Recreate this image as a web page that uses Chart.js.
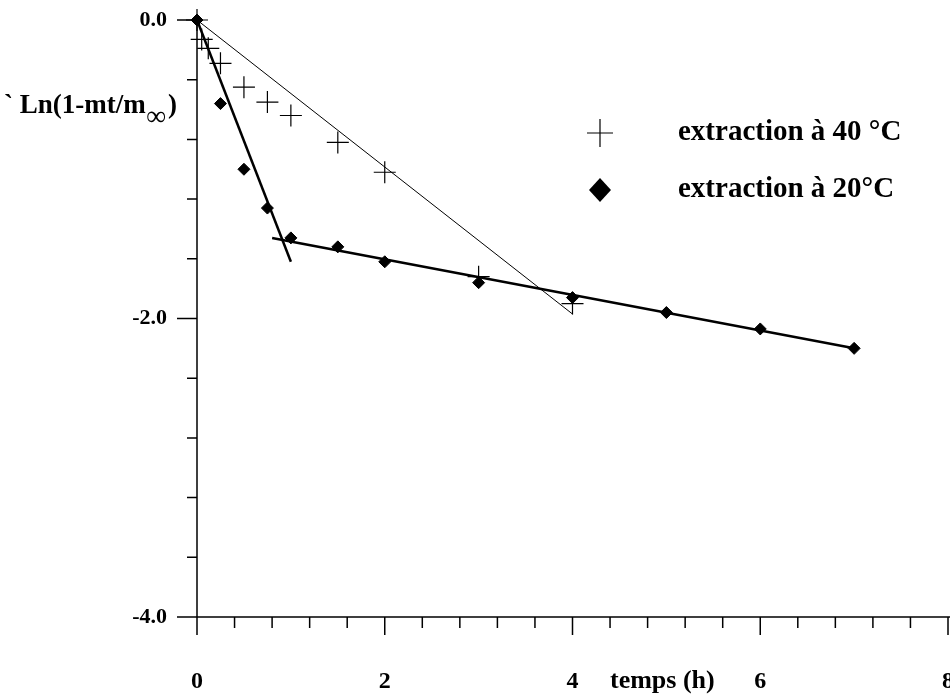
<!DOCTYPE html>
<html>
<head>
<meta charset="utf-8">
<script src="https://cdn.jsdelivr.net/npm/chart.js@4/dist/chart.umd.min.js"></script>
<style>
  html, body { margin: 0; padding: 0; background: #fff; }
  #wrap { width: 950px; height: 697px; }
</style>
</head>
<body>
<div id="wrap"><canvas id="kinChart" width="950" height="697"></canvas></div>
<script>
// extraction à 40 °C (croix)
const hours40 = [0, 0.05, 0.12, 0.25, 0.5, 0.75, 1, 1.5, 2, 3, 4];
const ln40 = [0, -0.13, -0.19, -0.29, -0.45, -0.55, -0.64, -0.82, -1.02, -1.72, -1.9];
// extraction à 20 °C (losanges)
const hours20 = [0, 0.25, 0.5, 0.75, 1, 1.5, 2, 3, 4, 5, 6, 7];
const ln20 = [0, -0.56, -1.0, -1.26, -1.46, -1.52, -1.62, -1.76, -1.86, -1.96, -2.07, -2.2];
// droites de régression
const fit40X = [0, 4];
const fit40Y = [0, -1.97];
const fit20aX = [0, 1.0];
const fit20aY = [0, -1.62];
const fit20bX = [0.8, 7];
const fit20bY = [-1.46, -2.2];

const serif = "'Liberation Serif', 'DejaVu Serif', serif";

function pts(xs, ys) {
  return xs.map((x, i) => ({x: x, y: ys[i]}));
}

function isMajor(v) {
  return Math.abs(v / 2 - Math.round(v / 2)) < 1e-6;
}

// ticks, axis lines, titles and legend drawn over the chart
const decor = {
  id: 'decor',
  afterDraw(chart) {
    const ctx = chart.ctx;
    const xs = chart.scales.x, ys = chart.scales.y;
    const left = xs.getPixelForValue(0), bottom = ys.getPixelForValue(-4);
    const top = ys.getPixelForValue(0);
    ctx.save();
    ctx.strokeStyle = '#000';
    ctx.lineWidth = 1.5;
    ctx.beginPath();
    ctx.moveTo(left, top); ctx.lineTo(left, bottom + 18);
    ctx.moveTo(left - 20, bottom); ctx.lineTo(950, bottom);
    xs.ticks.forEach(t => {
      const px = xs.getPixelForValue(t.value);
      ctx.moveTo(px, bottom); ctx.lineTo(px, bottom + (isMajor(t.value) ? 18 : 11));
    });
    ys.ticks.forEach(t => {
      const py = ys.getPixelForValue(t.value);
      ctx.moveTo(left, py); ctx.lineTo(left - (isMajor(t.value) ? 20 : 10), py);
    });
    ctx.stroke();

    ctx.fillStyle = '#000';
    ctx.textBaseline = 'middle';
    ctx.textAlign = 'left';
    ctx.font = 'bold 27px ' + serif;
    ctx.fillText('` Ln(1-mt/m', 4, 106);
    ctx.font = 'italic bold 28px ' + serif;
    ctx.fillText('\u221E', 146, 118);
    ctx.font = 'bold 27px ' + serif;
    ctx.fillText(')', 168, 106);
    ctx.font = 'bold 26px ' + serif;
    ctx.fillText('temps (h)', 610, 681);

    // légende
    ctx.lineWidth = 1.2;
    ctx.beginPath();
    ctx.moveTo(587, 133); ctx.lineTo(613, 133);
    ctx.moveTo(600, 119); ctx.lineTo(600, 147);
    ctx.stroke();
    ctx.beginPath();
    ctx.moveTo(600, 178); ctx.lineTo(611, 190); ctx.lineTo(600, 202); ctx.lineTo(589, 190);
    ctx.closePath();
    ctx.fill();
    ctx.font = 'bold 29px ' + serif;
    ctx.fillText('extraction \u00E0 40 \u00B0C', 678, 133);
    ctx.fillText('extraction \u00E0 20\u00B0C', 678, 190);
    ctx.restore();
  }
};

new Chart(document.getElementById('kinChart'), {
  type: 'scatter',
  data: {
    datasets: [
      {
        label: 'extraction à 40 °C',
        data: pts(hours40, ln40),
        pointStyle: 'cross',
        pointRadius: 11,
        borderColor: '#000',
        borderWidth: 1.2,
        showLine: false
      },
      {
        label: 'extraction à 20°C',
        data: pts(hours20, ln20),
        pointStyle: 'rectRot',
        pointRadius: 6,
        backgroundColor: '#000',
        borderColor: '#000',
        borderWidth: 1,
        showLine: false
      },
      {
        label: 'fit40',
        data: pts(fit40X, fit40Y),
        showLine: true,
        borderColor: '#000',
        borderWidth: 1,
        pointRadius: 0
      },
      {
        label: 'fit20a',
        data: pts(fit20aX, fit20aY),
        showLine: true,
        borderColor: '#000',
        borderWidth: 2.5,
        pointRadius: 0
      },
      {
        label: 'fit20b',
        data: pts(fit20bX, fit20bY),
        showLine: true,
        borderColor: '#000',
        borderWidth: 2.5,
        pointRadius: 0
      }
    ]
  },
  options: {
    responsive: false,
    animation: false,
    clip: false,
    layout: { autoPadding: false, padding: { top: 20, right: 2, left: 0, bottom: 0 } },
    plugins: {
      legend: { display: false },
      tooltip: { enabled: false }
    },
    scales: {
      x: {
        type: 'linear',
        min: 0,
        max: 8,
        grid: { display: false, drawTicks: false },
        border: { display: false },
        afterFit: s => { s.height = 80; s.paddingLeft = 0; s.paddingRight = 0; },
        ticks: {
          stepSize: 0.4,
          autoSkip: false,
          maxRotation: 0,
          padding: 50,
          color: '#000',
          font: { family: serif, size: 24, weight: 'bold' },
          callback: v => isMajor(v) ? String(Math.round(v)) : ''
        }
      },
      y: {
        type: 'linear',
        min: -4,
        max: 0,
        grid: { display: false, drawTicks: false },
        border: { display: false },
        afterFit: s => { s.width = 197; s.paddingTop = 0; s.paddingBottom = 0; },
        ticks: {
          stepSize: 0.4,
          autoSkip: false,
          padding: 30,
          color: '#000',
          font: { family: serif, size: 22, weight: 'bold' },
          callback: v => isMajor(v) ? v.toFixed(1) : ''
        }
      }
    }
  },
  plugins: [decor]
});
</script>
</body>
</html>
